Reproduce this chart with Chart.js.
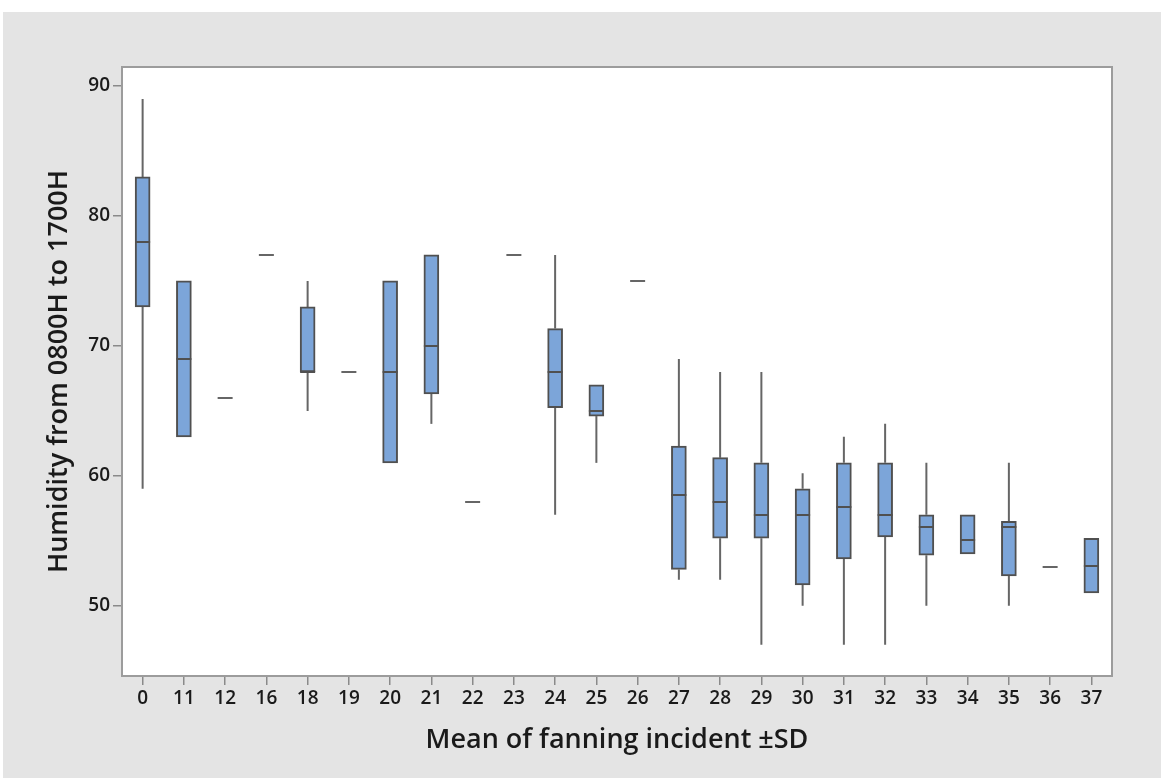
<!DOCTYPE html>
<html>
<head>
<meta charset="utf-8">
<script src="https://cdn.jsdelivr.net/npm/chart.js@4"></script>
<style>
  html, body { margin: 0; padding: 0; background: #fff; }
  #wrap {
    position: absolute; left: 3px; top: 12px;
    width: 1158px; height: 766px;
    background: #e4e4e4;
  }
</style>
</head>
<body>
<div id="wrap"><canvas id="boxChart"></canvas></div>
<script>
// categories on x axis
const categories = ["0", "11", "12", "16", "18", "19", "20", "21", "22", "23", "24", "25",
  "26", "27", "28", "29", "30", "31", "32", "33", "34", "35", "36", "37"];

// five number summary per category
const whiskerLow  = [59, 63, 66, 77, 65, 68, 61, 64, 58, 77, 57, 61, 75, 52, 52, 47, 50, 47, 47, 50, 54, 50, 53, 51];
const q1          = [73, 63, 66, 77, 68, 68, 61, 66.3, 58, 77, 65.25, 64.6, 75, 52.8, 55.2, 55.2, 51.6, 53.6, 55.3, 53.9, 54, 52.3, 53, 51];
const median      = [78, 69, 66, 77, 68, 68, 68, 70, 58, 77, 68, 65, 75, 58.5, 58, 57, 57, 57.6, 57, 56.1, 55.1, 56.1, 53, 53.1];
const q3          = [83, 75, 66, 77, 73, 68, 75, 77, 58, 77, 71.33, 67, 75, 62.3, 61.4, 61, 59, 61, 61, 57, 57, 56.5, 53, 55.2];
const whiskerHigh = [89, 75, 66, 77, 75, 68, 75, 77, 58, 77, 77, 67, 75, 69, 68, 68, 60.2, 63, 64, 61, 57, 61, 53, 55.2];

const yTicks = [50, 60, 70, 80, 90];

const boxColor = "rgb(124, 165, 217)";
const edgeColor = "#505050";
const halfBox = 7.5;

// whiskers under the boxes, medians on top
const boxPlotLines = {
  id: "boxPlotLines",
  beforeDatasetsDraw(chart) {
    const { ctx, scales } = chart;
    ctx.save();
    ctx.strokeStyle = "#666";
    ctx.lineWidth = 2;
    categories.forEach((c, i) => {
      const x = scales.x.getPixelForValue(i);
      ctx.beginPath();
      if (whiskerHigh[i] > q3[i]) {
        ctx.moveTo(x, scales.y.getPixelForValue(q3[i]));
        ctx.lineTo(x, scales.y.getPixelForValue(whiskerHigh[i]));
      }
      if (whiskerLow[i] < q1[i]) {
        ctx.moveTo(x, scales.y.getPixelForValue(q1[i]));
        ctx.lineTo(x, scales.y.getPixelForValue(whiskerLow[i]));
      }
      ctx.stroke();
    });
    ctx.restore();
  },
  afterDatasetsDraw(chart) {
    const { ctx, scales } = chart;
    ctx.save();
    ctx.lineWidth = 2;
    categories.forEach((c, i) => {
      const x = scales.x.getPixelForValue(i);
      const y = Math.round(scales.y.getPixelForValue(median[i]));
      ctx.strokeStyle = q1[i] === q3[i] ? "#666" : edgeColor;
      ctx.beginPath();
      ctx.moveTo(x - halfBox, y);
      ctx.lineTo(x + halfBox, y);
      ctx.stroke();
    });
    ctx.restore();
  },
};

// white plot area with grey frame
const plotFrame = {
  id: "plotFrame",
  beforeDraw(chart) {
    const { ctx, chartArea: a } = chart;
    ctx.save();
    ctx.fillStyle = "#fff";
    ctx.fillRect(a.left, a.top, a.right - a.left, a.bottom - a.top);
    ctx.restore();
  },
  afterDraw(chart) {
    const { ctx, chartArea: a } = chart;
    ctx.save();
    ctx.strokeStyle = "#9c9c9c";
    ctx.lineWidth = 2;
    ctx.strokeRect(a.left, a.top, a.right - a.left, a.bottom - a.top);
    ctx.restore();
  },
};

const tickFont = { family: "'Open Sans', sans-serif", size: 19, weight: "600" };
const titleFont = { family: "'Open Sans', sans-serif", size: 27, weight: "600" };

new Chart(document.getElementById("boxChart"), {
  type: "bar",
  data: {
    labels: categories,
    datasets: [
      {
        data: q1.map((v, i) => (v === q3[i] ? null : [v, q3[i]])),
        backgroundColor: boxColor,
        borderColor: edgeColor,
        borderWidth: 2,
        borderSkipped: false,
        barThickness: 15,
      },
    ],
  },
  options: {
    responsive: true,
    maintainAspectRatio: false,
    animation: false,
    layout: { padding: { top: 55, right: 49, left: 0, bottom: 0 } },
    plugins: { legend: { display: false }, tooltip: { enabled: false } },
    scales: {
      x: {
        grid: { offset: false, drawOnChartArea: false, drawTicks: true, tickLength: 9, color: "#8a8a8a", lineWidth: 1.5 },
        border: { display: false },
        ticks: { font: tickFont, color: "#1a1a1a", padding: 2, maxRotation: 0, autoSkip: false },
        title: { display: true, text: "Mean of fanning incident ±SD", font: titleFont, color: "#1a1a1a", padding: { top: 0, bottom: 21 } },
        afterFit(scale) { scale.height = 102; },
      },
      y: {
        min: 44.6,
        max: 91.46,
        afterBuildTicks(scale) { scale.ticks = yTicks.map((v) => ({ value: v })); },
        grid: { drawOnChartArea: false, drawTicks: true, tickLength: 9, color: "#8a8a8a", lineWidth: 1.5 },
        border: { display: false },
        ticks: { font: tickFont, color: "#1a1a1a", padding: 3 },
        title: { display: true, text: "Humidity from 0800H to 1700H", font: titleFont, color: "#1a1a1a", padding: { top: 40, bottom: 0 } },
        afterFit(scale) { scale.width = 119; },
      },
    },
  },
  plugins: [plotFrame, boxPlotLines],
});
</script>
</body>
</html>
